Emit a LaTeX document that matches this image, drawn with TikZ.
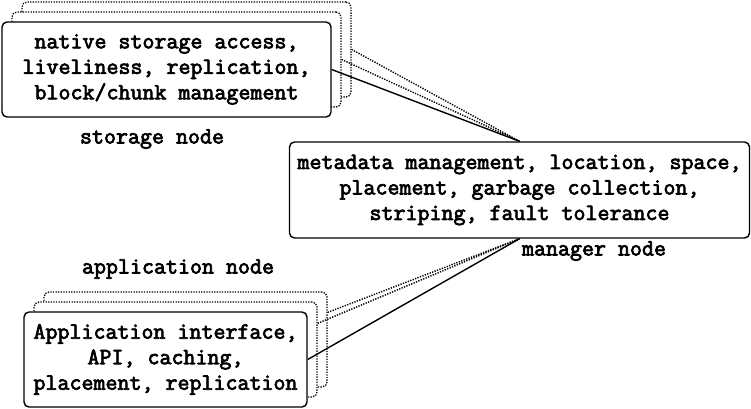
\documentclass[tikz,border=0pt]{standalone}
\usepackage{fontspec}
\newfontfamily\boldmono{Latin Modern Mono}[FakeBold=3]
\begin{document}
\begin{tikzpicture}[x=1pt,y=-1pt,
  txt/.style={font=\boldmono\fontsize{23.3}{25.5}\selectfont, align=center, inner sep=0pt},
  box/.style={draw, line width=1.4pt, rounded corners=5pt, fill=white, txt},
  ghost/.style={draw, line width=1.3pt, dash pattern=on 1.3pt off 1.3pt, rounded corners=5pt, fill=white, inner sep=0pt},
  solidline/.style={line width=1.4pt},
  dotline/.style={line width=1.4pt, dash pattern=on 1.3pt off 1.3pt}]
\useasboundingbox (0,0) rectangle (751,408);
% storage node stack
\node[ghost, minimum width=329pt, minimum height=95pt] (s3) at (186.5,49.5) {};
\node[ghost, minimum width=329pt, minimum height=95pt] (s2) at (176.5,59.5) {};
\node[box, minimum width=329pt, minimum height=95pt] (s) at (166.5,69.5)
  {native storage access,\\liveliness, replication,\\block/chunk management};
\node[txt] (sl) at (152,139) {storage node};
% manager node
\node[box, minimum width=460pt, minimum height=96pt] (m) at (519.5,190)
  {metadata management, location, space,\\placement, garbage collection,\\striping, fault tolerance};
\node[txt] (ml) at (594,251) {manager node};
% application node stack
\node[ghost, minimum width=283pt, minimum height=95pt] (a3) at (185.5,339.5) {};
\node[ghost, minimum width=283pt, minimum height=95pt] (a2) at (175.5,349.5) {};
\node[box, minimum width=283pt, minimum height=95pt] (a) at (165.5,359.5)
  {Application interface,\\API, caching,\\placement, replication};
\node[txt] (al) at (178,269) {application node};
% connectors
\coordinate (a2p) at ([yshift=-22pt]a2.north east);
\coordinate (a3p) at ([yshift=-21pt]a3.north east);
\draw[solidline] (s.east) -- (m.north);
\draw[dotline] (s2.east) -- (m.north);
\draw[dotline] (s3.east) -- (m.north);
\draw[solidline] (a.east) -- (m.south);
\draw[dotline] (a2p) -- (m.south);
\draw[dotline] (a3p) -- (m.south);
\end{tikzpicture}
\end{document}
